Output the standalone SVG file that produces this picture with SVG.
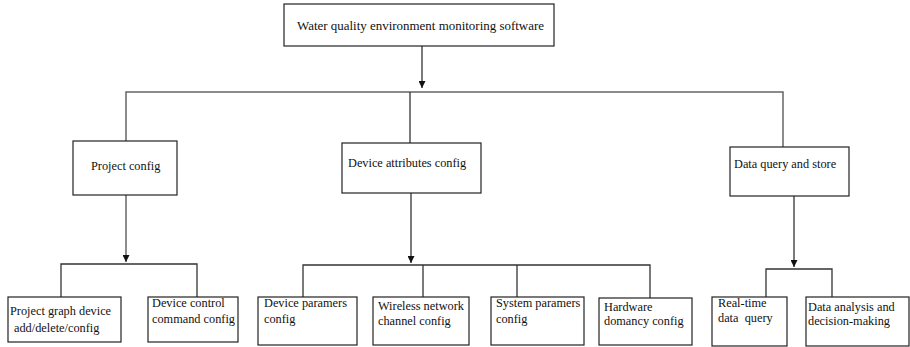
<svg xmlns="http://www.w3.org/2000/svg" width="910" height="347" viewBox="0 0 910 347">
<style>
.box{fill:#fff;stroke:#222;stroke-width:1.2}
.t{font-family:'Liberation Serif','Times New Roman','DejaVu Serif',serif;font-size:12.3px;fill:#111}
.c{fill:none;stroke:#333;stroke-width:1.3}
.g{fill:none;stroke:#666;stroke-width:1.5}
</style>
<defs>
<marker id="ah" viewBox="0 0 10 10" refX="10" refY="5" markerWidth="7" markerHeight="7" markerUnits="userSpaceOnUse" orient="auto">
<path d="M0,0 L10,5 L0,10 z" fill="#111"/>
</marker>
</defs>
<rect width="910" height="347" fill="#fff"/>
<g id="connectors">
<line class="c" x1="422" y1="46" x2="422" y2="88" marker-end="url(#ah)"/>
<polyline class="g" points="126,141 126,92 783,92 783,147"/>
<line class="c" x1="410" y1="92" x2="410" y2="143"/>
<line class="g" x1="126" y1="195" x2="126" y2="262" marker-end="url(#ah)"/>
<polyline class="c" points="61,297 61,264 197,264 197,297"/>
<line class="c" x1="411" y1="193" x2="411" y2="263" marker-end="url(#ah)"/>
<polyline class="c" points="303,297 303,265 650,265 650,298"/>
<line class="c" x1="423" y1="265" x2="423" y2="297"/>
<line class="c" x1="517" y1="265" x2="517" y2="297"/>
<line class="c" x1="794" y1="196" x2="794" y2="267" marker-end="url(#ah)"/>
<polyline class="c" points="766,297 766,269 832,269 832,297"/>
</g>
<g id="root"><rect class="box" x="284" y="4" width="270" height="42"/><text class="t" x="297" y="30" textLength="247" lengthAdjust="spacingAndGlyphs">Water quality environment monitoring software</text></g>
<g id="project-config"><rect class="box" x="73" y="141" width="104" height="54"/><text class="t" x="91" y="170">Project config</text></g>
<g id="device-attributes-config"><rect class="box" x="342" y="143" width="139" height="50"/><text class="t" x="348" y="167">Device attributes config</text></g>
<g id="data-query-store"><rect class="box" x="730" y="147" width="119" height="49"/><text class="t" x="734" y="168">Data query and store</text></g>
<g id="project-graph"><rect class="box" x="8" y="297" width="113" height="45"/><text class="t" x="10" y="315">Project graph device</text><text class="t" x="14" y="332">add/delete/config</text></g>
<g id="device-control"><rect class="box" x="148" y="297" width="90" height="45"/><text class="t" x="152" y="307">Device control</text><text class="t" x="152" y="323">command config</text></g>
<g id="device-paramers"><rect class="box" x="258" y="297" width="99" height="48"/><text class="t" x="264" y="307">Device paramers</text><text class="t" x="264" y="323">config</text></g>
<g id="wireless"><rect class="box" x="373" y="297" width="96" height="48"/><text class="t" x="378" y="310">Wireless network</text><text class="t" x="378" y="325">channel config</text></g>
<g id="system-paramers"><rect class="box" x="491" y="297" width="93" height="48"/><text class="t" x="496" y="307">System paramers</text><text class="t" x="496" y="323">config</text></g>
<g id="hardware"><rect class="box" x="599" y="298" width="93" height="47"/><text class="t" x="604" y="311">Hardware</text><text class="t" x="604" y="325">domancy config</text></g>
<g id="real-time"><rect class="box" x="712" y="297" width="75" height="49"/><text class="t" x="718" y="307">Real-time</text><text class="t" x="718" y="322" xml:space="preserve">data  query</text></g>
<g id="data-analysis"><rect class="box" x="806" y="297" width="103" height="49"/><text class="t" x="808" y="311">Data analysis and</text><text class="t" x="808" y="325">decision-making</text></g>
</svg>
